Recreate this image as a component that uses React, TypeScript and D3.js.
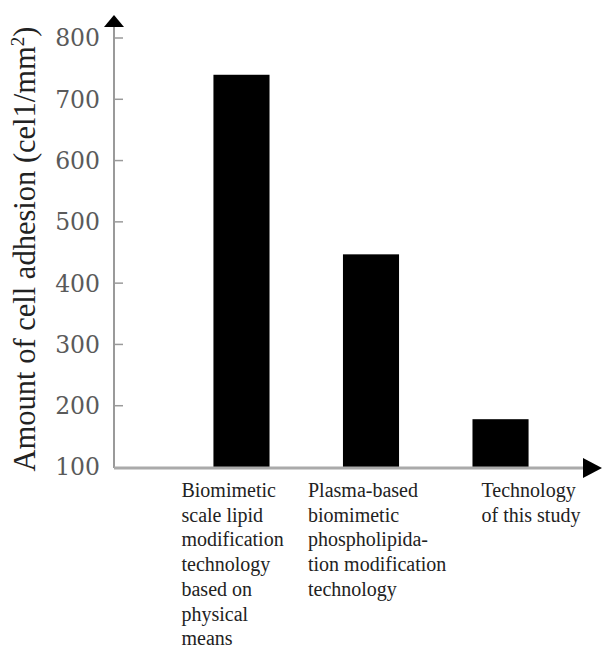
import React from "react";
import * as d3 from "d3";

const categories = ["c1", "c2", "c3"];
const values = [740, 447, 178];
const labelLines = [
  ["Biomimetic", "scale lipid", "modification", "technology", "based on", "physical", "means"],
  ["Plasma-based", "biomimetic", "phospholipida-", "tion modification", "technology"],
  ["Technology", "of this study"],
];
const yTicks = [100, 200, 300, 400, 500, 600, 700, 800];
const yDomain = [100, 800];
const labelOffsets = [-60, -63, -19];

export default function App() {
  const W = 602, H = 649;
  const axisX = 114, axisY = 467;
  const y = d3.scaleLinear().domain(yDomain).range([467, 38]);
  const x = d3.scaleBand<string>().domain(categories).range([140, 602]).paddingInner(0.567).paddingOuter(0.567);
  const axisColor = "#9a9a9a";
  return (
    <svg width={W} height={H} style={{ position: "absolute", left: 0, top: 0 }}>
      <rect width={W} height={H} fill="#fff" />
      {/* bars */}
      {categories.map((c, i) => (
        <rect key={c} x={x(c)} y={y(values[i])} width={x.bandwidth()} height={y(yDomain[0]) - y(values[i])} fill="#000" />
      ))}
      {/* y axis */}
      <line x1={axisX} x2={axisX} y1={axisY + 1} y2={24} stroke={axisColor} strokeWidth={2} />
      <path d={`M${axisX},15 L${axisX - 10},27 L${axisX + 10},27 Z`} fill="#000" />
      {yTicks.map((t) => (
        <g key={t}>
          {t !== 100 && <line x1={axisX} x2={axisX + 9} y1={y(t)} y2={y(t)} stroke={axisColor} strokeWidth={1.5} />}
          <text x={100} y={y(t)} dy="0.36em" textAnchor="end" fontFamily="DejaVu Serif" fontSize={23.5} fill="#5a5a5a">
            {t}
          </text>
        </g>
      ))}
      {/* x axis */}
      <line x1={axisX} x2={586} y1={axisY + 1} y2={axisY + 1} stroke="#aaa" strokeWidth={3} />
      <path d={`M602,${axisY + 1} L583,${axisY - 9} L583,${axisY + 11} Z`} fill="#000" />
      {/* category labels */}
      {categories.map((c, i) => (
        <text key={c} fontFamily="Liberation Serif" fontSize={20} fill="#222">
          {labelLines[i].map((l, j) => (
            <tspan key={j} x={(x(c) as number) + x.bandwidth() / 2 + labelOffsets[i]} y={497 + j * 24.7}>
              {l}
            </tspan>
          ))}
        </text>
      ))}
      {/* y label */}
      <text transform={`translate(35,249) rotate(-90)`} textAnchor="middle" fontFamily="Liberation Serif" fontSize={30.5} fill="#222">
        Amount of cell adhesion (cel1/mm<tspan dy="-11" fontSize={19}>2</tspan><tspan dy="11">)</tspan>
      </text>
    </svg>
  );
}
